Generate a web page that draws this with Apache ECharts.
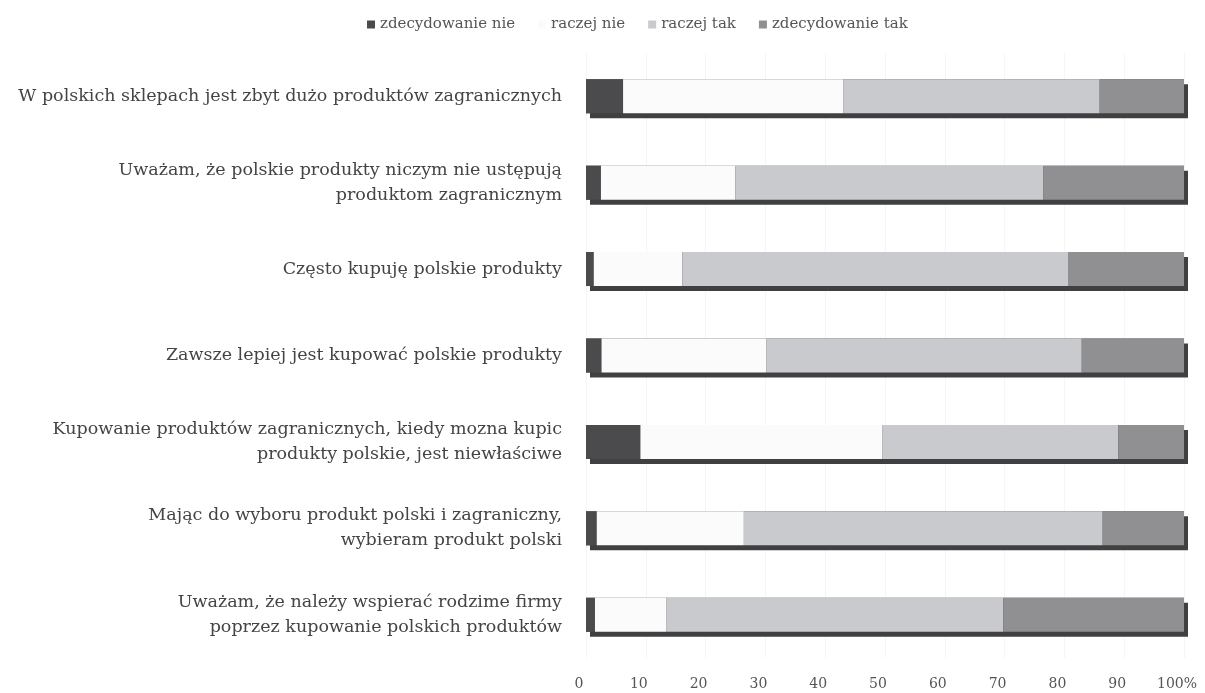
<!DOCTYPE html>
<html>
<head>
<meta charset="utf-8">
<script src="https://cdn.jsdelivr.net/npm/echarts@6/dist/echarts.min.js"></script>
<style>html,body{margin:0;padding:0;background:#fff}#c{width:1205px;height:693px}</style>
</head>
<body>
<div id="c"></div>
<script>
var categories = [
  "W polskich sklepach jest zbyt dużo produktów zagranicznych",
  "Uważam, że polskie produkty niczym nie ustępują\nproduktom zagranicznym",
  "Często kupuję polskie produkty",
  "Zawsze lepiej jest kupować polskie produkty",
  "Kupowanie produktów zagranicznych, kiedy mozna kupic\nprodukty polskie, jest niewłaściwe",
  "Mając do wyboru produkt polski i zagraniczny,\nwybieram produkt polski",
  "Uważam, że należy wspierać rodzime firmy\npoprzez kupowanie polskich produktów"
];
var seriesNames = ["zdecydowanie nie", "raczej nie", "raczej tak", "zdecydowanie tak"];
var zdecydowanieNie = [6.2, 2.5, 1.3, 2.6, 9.1, 1.8, 1.5];
var raczejNie = [36.8, 22.5, 14.8, 27.6, 40.5, 24.6, 11.9];
var raczejTak = [42.9, 51.5, 64.6, 52.7, 39.4, 60.0, 56.4];
var zdecydowanieTak = [14.1, 23.5, 19.3, 17.1, 11.0, 13.6, 30.2];
var xTicks = [0, 10, 20, 30, 40, 50, 60, 70, 80, 90, 100];

var colors = ["#4b4a4d", "#fbfbfb", "#c9cacd", "#909092"];
var allData = [zdecydowanieNie, raczejNie, raczejTak, zdecydowanieTak];
var totals = categories.map(function (c, k) {
  return allData.reduce(function (s, d) { return s + d[k]; }, 0);
});

var chart = echarts.init(document.getElementById('c'), null, {renderer: 'canvas'});
var series = [{
  name: 'shadow',
  type: 'bar',
  stack: 'bg',
  barWidth: 34,
  barGap: '-100%',
  data: totals,
  silent: true,
  itemStyle: {
    color: '#404042',
    shadowColor: '#404042',
    shadowBlur: 0,
    shadowOffsetX: 4,
    shadowOffsetY: 5
  },
  emphasis: {disabled: true}
}].concat(allData.map(function (d, i) {
  return {
    name: seriesNames[i],
    type: 'bar',
    stack: 'total',
    barWidth: 34,
    barGap: '-100%',
    data: d,
    itemStyle: {color: colors[i]},
    emphasis: {disabled: true}
  };
}));

chart.setOption({
  animation: false,
  backgroundColor: '#ffffff',
  legend: {
    data: seriesNames,
    left: 362,
    top: 12,
    itemWidth: 8,
    itemHeight: 8,
    itemGap: 23,
    icon: 'rect',
    textStyle: {fontFamily: 'DejaVu Serif', fontSize: 15, color: '#555'}
  },
  grid: {left: 586, right: 21, top: 53, bottom: 35, containLabel: false},
  xAxis: {
    type: 'value',
    min: 0,
    max: 100,
    interval: 10,
    axisLine: {show: false},
    axisTick: {show: false},
    splitLine: {show: true, lineStyle: {color: '#f5f5f5', width: 1}},
    axisLabel: {
      margin: 19,
      fontFamily: 'DejaVu Serif',
      fontSize: 14,
      color: '#555',
      padding: [0, 14, 0, 0],
      formatter: function (v) { return xTicks.indexOf(v) < 0 ? '' : (v === 100 ? '100%' : String(v)); }
    }
  },
  yAxis: {
    type: 'category',
    data: categories,
    inverse: true,
    axisLine: {show: false},
    axisTick: {show: false},
    splitLine: {show: false},
    axisLabel: {
      margin: 24,
      fontFamily: 'DejaVu Serif',
      fontSize: 17.5,
      lineHeight: 25,
      color: '#444',
      align: 'right'
    }
  },
  series: series
});
</script>
</body>
</html>
